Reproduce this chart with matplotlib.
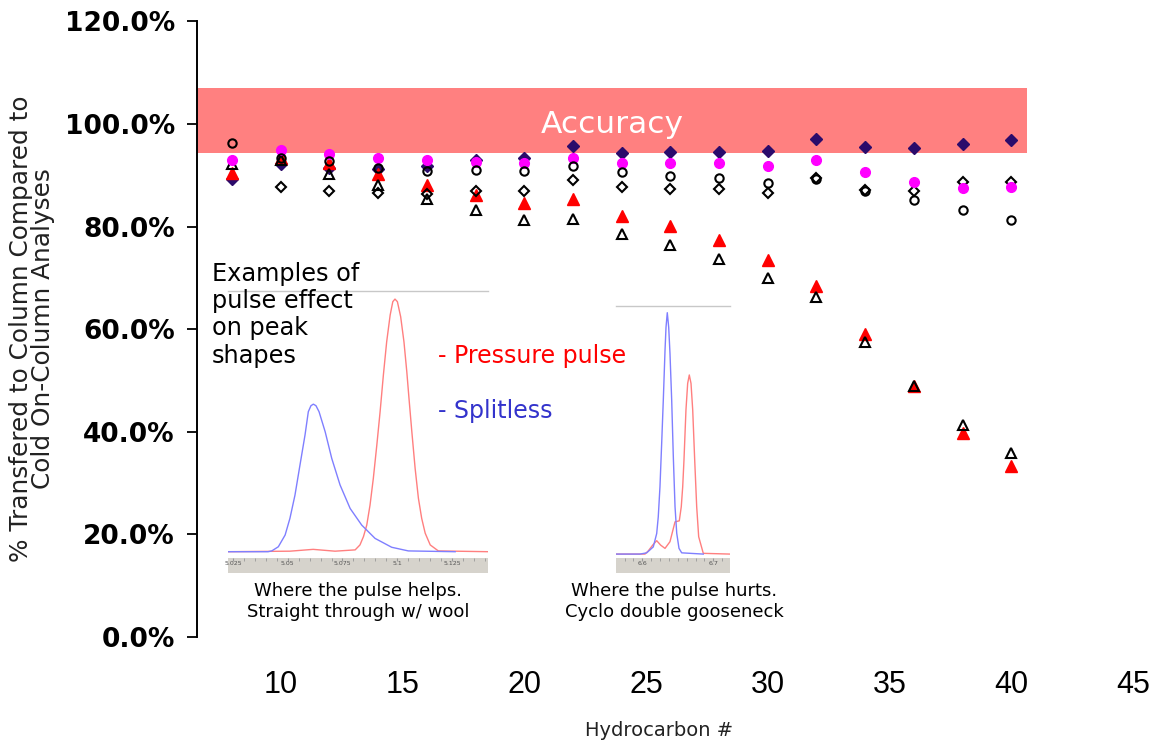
import numpy as np
import matplotlib
matplotlib.use("Agg")
import matplotlib.pyplot as plt
from matplotlib.ticker import FuncFormatter, MultipleLocator

W, H = 1154, 742

# ---- main chart data (percent transferred vs. carbon number) ----
carbon = [8, 10, 12, 14, 16, 18, 20, 22, 24, 26, 28, 30, 32, 34, 36, 38, 40]
navy_diamond = [89.3, 92.2, 91.5, 91.2, 91.9, 92.9, 93.4, 95.8, 94.4, 94.5,
                94.5, 94.8, 97.1, 95.6, 95.3, 96.1, 96.9]
magenta_dot = [92.9, 95.0, 94.2, 93.4, 92.9, 92.5, 92.4, 93.4, 92.4, 92.4,
               92.4, 91.8, 92.9, 90.6, 88.7, 87.6, 87.8]
open_circle = [96.3, 93.4, 92.7, 91.5, 90.8, 91.1, 90.8, 91.8, 90.6, 89.8,
               89.5, 88.5, 89.3, 87.0, 85.1, 83.3, 81.2]
open_diamond = [np.nan, 87.7, 87.0, 86.5, 86.4, 87.0, 87.0, 89.1, 87.8, 87.3,
                87.3, 86.5, 89.5, 87.2, 87.0, 88.7, 88.7]
red_triangle = [90.4, 93.4, 92.4, 90.3, 88.2, 86.1, 84.6, 85.4, 82.0, 80.2,
                77.3, 73.4, 68.5, 59.1, 48.9, 39.7, 33.3]
open_triangle = [92.2, 93.0, 90.3, 88.2, 85.4, 83.2, 81.2, 81.5, 78.5, 76.5,
                 73.7, 69.9, 66.3, 57.6, 48.9, 41.3, 35.9]

accuracy_band = (94.3, 107.1)
accuracy_xmax = 40.65

x_ticks = [10, 15, 20, 25, 30, 35, 40, 45]
y_ticks = [0, 20, 40, 60, 80, 100, 120]

# ---- inset chromatograms (retention time, relative signal) ----
helps_blue_t = [5.0227, 5.041, 5.0427, 5.0457, 5.0488, 5.051, 5.0533, 5.0556,
                5.0579, 5.0594, 5.0606, 5.0617, 5.0629, 5.0643, 5.0671, 5.0701,
                5.0739, 5.0785, 5.0838, 5.0899, 5.0975, 5.1051, 5.1265]
helps_blue_i = [0, 0, 0.3, 1.9, 6.4, 12.8, 21.7, 33.3, 44.8, 53.7, 56.0, 56.6,
                56.0, 53.7, 46.0, 35.8, 25.6, 16.6, 10.2, 5.1, 1.7, 0.3, 0]
helps_red_t = [5.0227, 5.051, 5.0616, 5.0716, 5.0808, 5.083, 5.0846, 5.0861,
               5.0876, 5.0891, 5.0907, 5.0922, 5.0937, 5.0952, 5.0968, 5.098,
               5.099, 5.1001, 5.1016, 5.1031, 5.1044, 5.1054, 5.1067, 5.1082,
               5.1097, 5.1112, 5.1128, 5.1151, 5.1188, 5.1417]
helps_red_i = [0, 0.2, 0.9, 0.2, 0.7, 2.6, 5.8, 10.2, 17.9, 28.1, 40.9, 53.7,
               67.8, 80.5, 90.8, 95.9, 96.9, 95.9, 90.1, 80.5, 69.0, 58.8, 46.0,
               32.0, 20.5, 12.8, 7.1, 2.6, 0.3, 0]
helps_ticks = [5.025, 5.05, 5.075, 5.1, 5.125]

hurts_blue_t = [6.563, 6.5968, 6.6062, 6.6155, 6.6203, 6.6225, 6.6249, 6.6273,
                6.6296, 6.632, 6.6334, 6.6352, 6.6372, 6.639, 6.6414, 6.6437,
                6.6461, 6.6485, 6.6517, 6.6555, 6.6859]
hurts_blue_i = [0, 0, 0.5, 2.9, 8.3, 15.0, 27.1, 44.6, 62.1, 82.0, 91.4, 97.3,
                91.4, 80.9, 62.1, 39.2, 19.1, 8.4, 2.3, 0.5, 0]
hurts_red_t = [6.563, 6.6038, 6.6085, 6.6146, 6.6203, 6.6259, 6.632, 6.639,
               6.6461, 6.6521, 6.6549, 6.6569, 6.6587, 6.6615, 6.6639, 6.6662,
               6.6686, 6.671, 6.6738, 6.6766, 6.6794, 6.6859, 6.7235]
hurts_red_i = [0, 0, 1.3, 3.6, 5.4, 3.6, 2.3, 5.0, 13.0, 13.4, 19.1, 27.1, 37.9,
               58.1, 68.8, 72.2, 68.8, 58.1, 37.9, 19.1, 7.0, 0.3, 0]
hurts_ticks = [6.6, 6.7]


def px_rect(x0, y0, x1, y1):
    """Figure-fraction rect from pixel box (top-left origin)."""
    return [x0 / W, 1 - y1 / H, (x1 - x0) / W, (y1 - y0) / H]


def fx(x):
    return x / W


def fy(y):
    return 1 - y / H


fig = plt.figure(figsize=(W / 100, H / 100), dpi=100)

ax = fig.add_axes(px_rect(197, 21.4, 1152.5, 637))
ax.set_xlim(6.56, 45.8)
ax.set_ylim(0, 120)

ax.fill_between([6.56, accuracy_xmax], accuracy_band[0], accuracy_band[1],
                color="#ff8080", lw=0, zorder=1)
ax.text(23.6, 99.9, "Accuracy", color="white", fontsize=22.5,
        family="DejaVu Sans", ha="center", va="center", zorder=2)

mk = dict(ls="none", zorder=3)
ax.plot(carbon, navy_diamond, marker="D", ms=6, color="#2b0b6b", **mk)
ax.plot(carbon, red_triangle, marker="^", ms=8, color="#ff0000", **mk)
ax.plot(carbon, open_triangle, marker="^", ms=7, mfc="none", mec="black",
        mew=1.5, **mk)
ax.plot(carbon, open_diamond, marker="D", ms=5.5, mfc="none", mec="black",
        mew=1.5, **mk)
ax.plot(carbon, magenta_dot, marker="o", ms=7, color="#ff00ff", **mk)
ax.plot(carbon, open_circle, marker="o", ms=6, mfc="none", mec="black",
        mew=1.5, **mk)

for side in ("top", "right", "bottom"):
    ax.spines[side].set_visible(False)
ax.spines["left"].set_linewidth(1.4)

ax.set_xticks(x_ticks)
ax.set_yticks(y_ticks)
ax.yaxis.set_major_formatter(FuncFormatter(lambda v, _: f"{v:.1f}%"))
ax.tick_params(axis="y", direction="out", length=7, width=1.3, pad=9)
ax.tick_params(axis="x", length=0, pad=24)
for lab in ax.get_yticklabels():
    lab.set_family("DejaVu Sans")
    lab.set_fontweight("bold")
    lab.set_fontsize(19)
for lab in ax.get_xticklabels():
    lab.set_family("Liberation Sans")
    lab.set_fontsize(22)

ax.set_xlabel("Hydrocarbon #", fontsize=14, family="DejaVu Sans", color="#222222")
ax.xaxis.label.set_va("center")
ax.xaxis.set_label_coords((659 - 197) / (1152.5 - 197), -(730 - 637) / 615.6)

fig.text(fx(32), fy(329), "% Transfered to Column Compared to\nCold On-Column Analyses",
         rotation=90, ha="center", va="center", multialignment="center",
         fontsize=17.8, linespacing=0.93, color="#222222",
         family=["Liberation Sans Narrow", "DejaVu Sans"])


def chromatogram(box, strip, xlim, ylo, blue, red, ticks, minor, labels):
    tax = fig.add_axes(px_rect(*box))
    tax.plot(*red, color="#ff7f7f", lw=1.0)
    tax.plot(*blue, color="#7f7fff", lw=1.0)
    tax.set_xlim(*xlim)
    tax.set_ylim(ylo, 100)
    tax.set_xticks([])
    tax.set_yticks([])
    for side in ("left", "right", "bottom"):
        tax.spines[side].set_visible(False)
    tax.spines["top"].set_color("#c8c8c8")
    tax.spines["top"].set_linewidth(1.0)

    sax = fig.add_axes(px_rect(*strip))
    sax.set_facecolor("#d6d3cc")
    sax.set_xlim(*xlim)
    sax.set_ylim(0, 1)
    sax.set_yticks([])
    sax.set_xticks(ticks)
    sax.set_xticklabels(labels)
    sax.xaxis.set_minor_locator(MultipleLocator(minor))
    sax.xaxis.set_ticks_position("top")
    sax.tick_params(axis="x", which="both", direction="in", length=2,
                    color="#999999", labelsize=4.5, labelcolor="#555555",
                    labeltop=False, labelbottom=True, pad=-9)
    for s in sax.spines.values():
        s.set_visible(False)


chromatogram((228, 291, 488, 557.7), (228, 557.7, 488, 573.3),
             (5.0227, 5.1415), -2.3,
             (helps_blue_t, helps_blue_i), (helps_red_t, helps_red_i),
             helps_ticks, 0.005, ["5.025", "5.05", "5.075", "5.1", "5.125"])
chromatogram((616, 306, 730, 558.3), (616, 558.3, 730, 573.3),
             (6.563, 6.7235), -1.7,
             (hurts_blue_t, hurts_blue_i), (hurts_red_t, hurts_red_i),
             hurts_ticks, 0.0125, ["6.6", "6.7"])

fig.text(fx(212), fy(262), "Examples of\npulse effect\non peak\nshapes",
         ha="left", va="top", fontsize=17.3, linespacing=1.17,
         family="DejaVu Sans", color="black")
fig.text(fx(438), fy(356), "- Pressure pulse", ha="left", va="center",
         fontsize=17, family="DejaVu Sans", color="#ff0000")
fig.text(fx(438), fy(411), "- Splitless", ha="left", va="center",
         fontsize=17, family="DejaVu Sans", color="#3333cc")
fig.text(fx(358), fy(601.5), "Where the pulse helps.\nStraight through w/ wool",
         ha="center", va="center", multialignment="center", fontsize=13,
         linespacing=1.27, family="DejaVu Sans", color="black")
fig.text(fx(674), fy(601.5), "Where the pulse hurts.\nCyclo double gooseneck",
         ha="center", va="center", multialignment="center", fontsize=13,
         linespacing=1.27, family="DejaVu Sans", color="black")

fig.savefig("out.png", dpi=100)
